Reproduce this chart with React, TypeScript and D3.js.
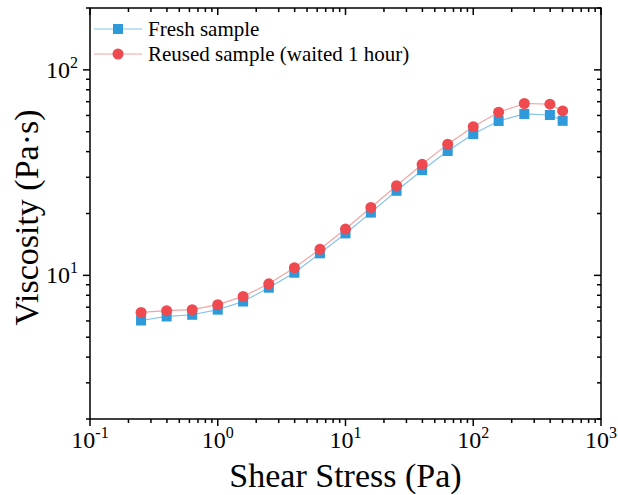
import React from "react";
import * as d3 from "d3";

const stress = [0.251, 0.398, 0.631, 1, 1.58, 2.51, 3.98, 6.31, 10, 15.8, 25.1, 39.8, 63.1, 100, 158, 251, 398, 501];
const fresh = [6.03, 6.31, 6.43, 6.81, 7.46, 8.71, 10.3, 12.8, 16.0, 20.2, 25.8, 32.5, 40.3, 48.7, 56.4, 61.0, 60.3, 56.5];
const reused = [6.6, 6.73, 6.81, 7.2, 7.9, 9.1, 10.9, 13.4, 16.8, 21.4, 27.3, 34.7, 43.5, 52.9, 62.2, 68.6, 68.1, 63.1];
const xMajor = [0.1, 1, 10, 100, 1000];
const xExp = ["-1", "0", "1", "2", "3"];
const yMajor = [10, 100];
const yExp = ["1", "2"];
const seriesNames = ["Fresh sample", "Reused sample (waited 1 hour)"];

const W = 618, H = 495;
const L = 90, R = 601, T = 8, B = 419;
const FONT = "'Liberation Serif', 'Times New Roman', serif";
const BLUE = "#2E9AD9", BLUE_L = "#86C3EC";
const RED = "#EE4A50", RED_L = "#F4A3A3";

export default function App() {
  const x = d3.scaleLog().domain([0.1, 1000]).range([L, R]);
  const y = d3.scaleLog().domain([2, 200]).range([B, T]);

  const xMinor: number[] = [];
  for (let e = -1; e < 3; e++) for (let k = 2; k <= 9; k++) xMinor.push(k * Math.pow(10, e));
  const yMinor: number[] = [];
  for (let e = 0; e < 3; e++) for (let k = 1; k <= 9; k++) {
    const v = k * Math.pow(10, e);
    if (v >= 2 && v <= 200 && v !== 10 && v !== 100) yMinor.push(v);
  }

  const line = d3.line<[number, number]>().x(d => x(d[0])).y(d => y(d[1]));
  const freshPts = stress.map((s, i) => [s, fresh[i]] as [number, number]);
  const reusedPts = stress.map((s, i) => [s, reused[i]] as [number, number]);

  const MAJ = 7, MIN = 4;
  const sw = 1.5;

  return (
    <svg width={W} height={H} style={{ position: "absolute", left: 0, top: 0, background: "#fff" }} fontFamily={FONT}>
      <rect x={0} y={0} width={W} height={H} fill="#fff" />
      <rect x={L} y={T} width={R - L} height={B - T} fill="none" stroke="#000" strokeWidth={sw} />
      {xMajor.map((v, i) => (
        <g key={"xm" + i}>
          <line x1={x(v)} x2={x(v)} y1={B} y2={B + MAJ} stroke="#000" strokeWidth={sw} />
          <line x1={x(v)} x2={x(v)} y1={T} y2={T + MAJ} stroke="#000" strokeWidth={sw} />
          <text x={x(v)} y={448} fontSize={24} textAnchor="middle">
            10<tspan fontSize={16} dy={-10}>{xExp[i]}</tspan>
          </text>
        </g>
      ))}
      {xMinor.map((v, i) => (
        <g key={"xn" + i}>
          <line x1={x(v)} x2={x(v)} y1={B} y2={B + MIN} stroke="#000" strokeWidth={sw} />
          <line x1={x(v)} x2={x(v)} y1={T} y2={T + MIN} stroke="#000" strokeWidth={sw} />
        </g>
      ))}
      {yMajor.map((v, i) => (
        <g key={"ym" + i}>
          <line x1={L - MAJ} x2={L} y1={y(v)} y2={y(v)} stroke="#000" strokeWidth={sw} />
          <line x1={R - MAJ} x2={R} y1={y(v)} y2={y(v)} stroke="#000" strokeWidth={sw} />
          <text x={78} y={y(v) + 8} fontSize={24} textAnchor="end">
            10<tspan fontSize={16} dy={-10}>{yExp[i]}</tspan>
          </text>
        </g>
      ))}
      {yMinor.map((v, i) => (
        <g key={"yn" + i}>
          <line x1={L - MIN} x2={L} y1={y(v)} y2={y(v)} stroke="#000" strokeWidth={sw} />
          <line x1={R - MIN} x2={R} y1={y(v)} y2={y(v)} stroke="#000" strokeWidth={sw} />
        </g>
      ))}
      <text x={(L + R) / 2} y={487} fontSize={34} textAnchor="middle">Shear Stress (Pa)</text>
      <text transform={`translate(38,${(T + B) / 2 + 4}) rotate(-90)`} fontSize={34} textAnchor="middle">Viscosity (Pa·s)</text>
      <path d={line(freshPts) || ""} fill="none" stroke={BLUE_L} strokeWidth={1.2} />
      <path d={line(reusedPts) || ""} fill="none" stroke={RED_L} strokeWidth={1.2} />
      {freshPts.map((p, i) => (
        <rect key={"f" + i} x={x(p[0]) - 5} y={y(p[1]) - 5} width={10} height={10} fill={BLUE} />
      ))}
      {reusedPts.map((p, i) => (
        <circle key={"r" + i} cx={x(p[0])} cy={y(p[1])} r={5.5} fill={RED} />
      ))}
      <g>
        <line x1={94} x2={142} y1={29} y2={29} stroke={BLUE_L} strokeWidth={1.2} />
        <rect x={113} y={24} width={10} height={10} fill={BLUE} />
        <text x={148} y={36} fontSize={21}>{seriesNames[0]}</text>
        <line x1={94} x2={142} y1={54} y2={54} stroke={RED_L} strokeWidth={1.2} />
        <circle cx={118} cy={54} r={5.5} fill={RED} />
        <text x={148} y={61} fontSize={21}>{seriesNames[1]}</text>
      </g>
    </svg>
  );
}
